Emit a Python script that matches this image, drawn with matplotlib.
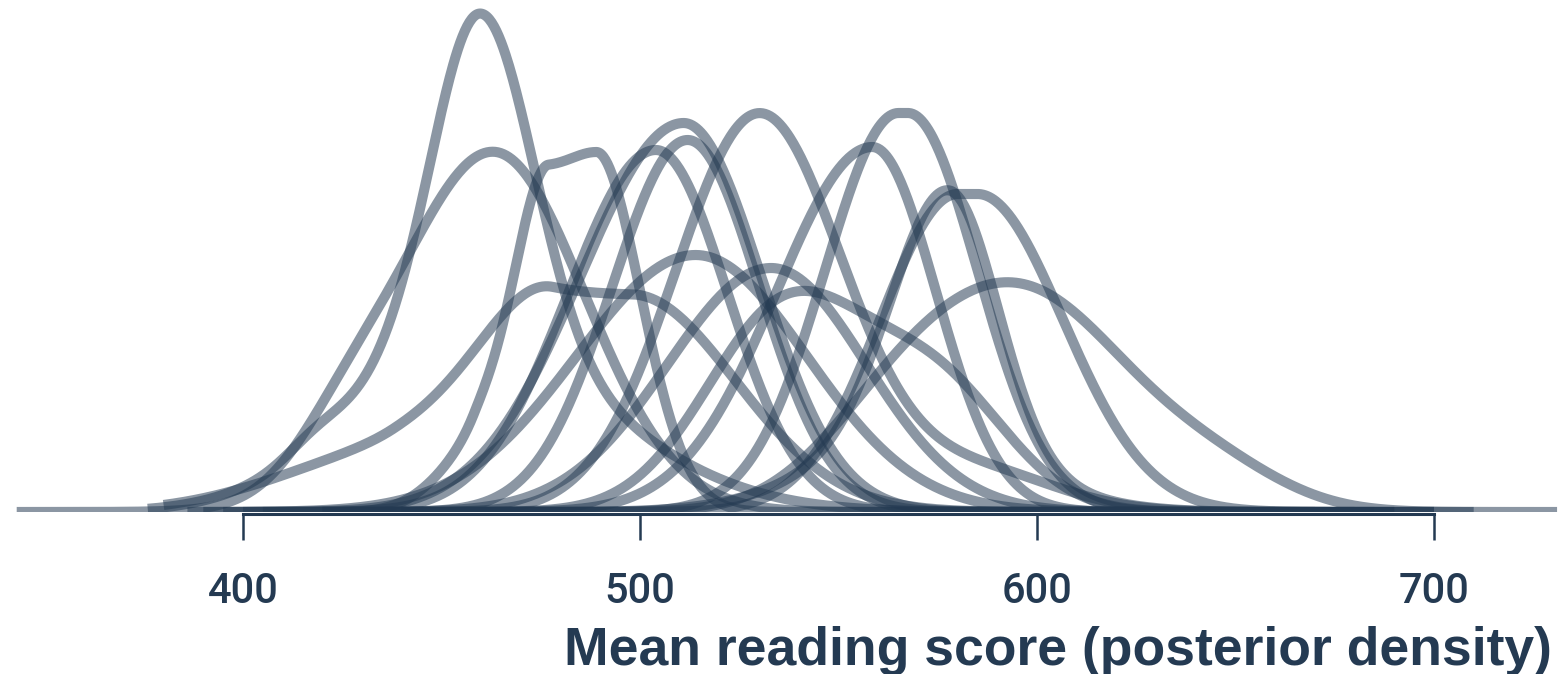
import numpy as np
import matplotlib.pyplot as plt

# Each posterior curve is a sum of a few bumps.
# A bump has a centre (score), a flat half-width at its top, a spread to its
# left and to its right (score units) and a height (px above the baseline).
bump_centers = [
    [460, 455, 418],        # tall narrow one
    [463, 425],
    [483, 489, 458],        # steep left side, shoulder, then peak
    [511],
    [512],
    [504],
    [530, 585],
    [566.3],                # flat top
    [558.5],
    [582.5],
    [578, 570],
    [514],                  # broad ones
    [533],
    [488, 438],
    [537, 575],
    [599, 565, 645],
]
bump_flat = [
    [0, 0, 0],
    [0, 0],
    [6, 0, 0],
    [0],
    [0],
    [0],
    [0, 0],
    [1.2],
    [0],
    [2.5],
    [0, 0],
    [0],
    [0],
    [10, 0],
    [0, 0],
    [0, 0, 0],
]
bump_left = [
    [12, 28, 7],
    [24, 12],
    [9.5, 6, 10],
    [26],
    [19],
    [22],
    [21, 20],
    [18.5],
    [24],
    [19.5],
    [14, 25],
    [30],
    [26],
    [19, 28],
    [20, 18],
    [25, 20, 18],
]
bump_right = [
    [13, 36, 7],
    [23, 12],
    [11.5, 6, 6],
    [19.5],
    [18],
    [18],
    [21, 20],
    [17.5],
    [16],
    [21.5],
    [12, 25],
    [28],
    [24],
    [26, 20],
    [20, 18],
    [25, 20, 18],
]
bump_heights = [
    [330, 170, 12],
    [360, 40],
    [345, 15, 50],
    [389],
    [372],
    [362],
    [398, 40],
    [399],
    [365],
    [318],
    [255, 70],
    [257],
    [244],
    [217, 60],
    [205, 120],
    [205, 80, 35],
]
# range over which each density was evaluated (gives the ragged baseline)
support_lo = [376, 343, 390, 400, 405, 395, 420, 440, 430, 450, 455, 386, 420, 380, 430, 440]
support_hi = [640, 650, 620, 640, 630, 625, 700, 690, 680, 690, 685, 660, 700, 670, 710, 731]

tick_values = [400, 500, 600, 700]
x_label = "Mean reading score (posterior density)"

INK = '#243a52'


def curve(i):
    xs = np.linspace(support_lo[i], support_hi[i], 900)
    ys = np.zeros_like(xs)
    for c, f, sl, sr, h in zip(bump_centers[i], bump_flat[i], bump_left[i],
                               bump_right[i], bump_heights[i]):
        d = np.maximum(np.abs(xs - c) - f, 0)
        s = np.where(xs < c, sl, sr)
        ys += h * np.exp(-0.5 * (d / s) ** 2)
    return xs, ys


def main():
    fig = plt.figure(figsize=(15.63, 6.74), dpi=100)
    ax = fig.add_axes([0, 162 / 674, 1, 512 / 674])

    for i in range(len(bump_centers)):
        xs, ys = curve(i)
        ax.plot(xs, ys, color=INK, alpha=0.53, linewidth=7.3,
                solid_capstyle='butt', solid_joinstyle='round')

    ax.set_xlim(400 - 243 / 3.97, 700 + 129 / 3.97)
    ax.set_ylim(0, 512)

    for side in ['left', 'right', 'top']:
        ax.spines[side].set_visible(False)
    ax.spines['bottom'].set_bounds(400, 700)
    ax.spines['bottom'].set_color(INK)
    ax.spines['bottom'].set_linewidth(2.2)
    ax.spines['bottom'].set_position(('outward', 1.5))
    ax.set_yticks([])
    ax.set_xticks(tick_values)
    ax.set_xticklabels([str(t) for t in tick_values], fontsize=30,
                       family=['Roboto', 'Liberation Sans'], fontweight='medium', color=INK)
    ax.tick_params(axis='x', direction='out', length=19, width=1.8, color=INK, pad=22)

    fig.text(1552 / 1563, 9 / 674, x_label, ha='right', va='baseline',
             fontsize=38.5, fontweight='bold', family='Liberation Sans', color=INK)

    fig.savefig('out.png', dpi=100)
    plt.close(fig)


if __name__ == '__main__':
    main()
